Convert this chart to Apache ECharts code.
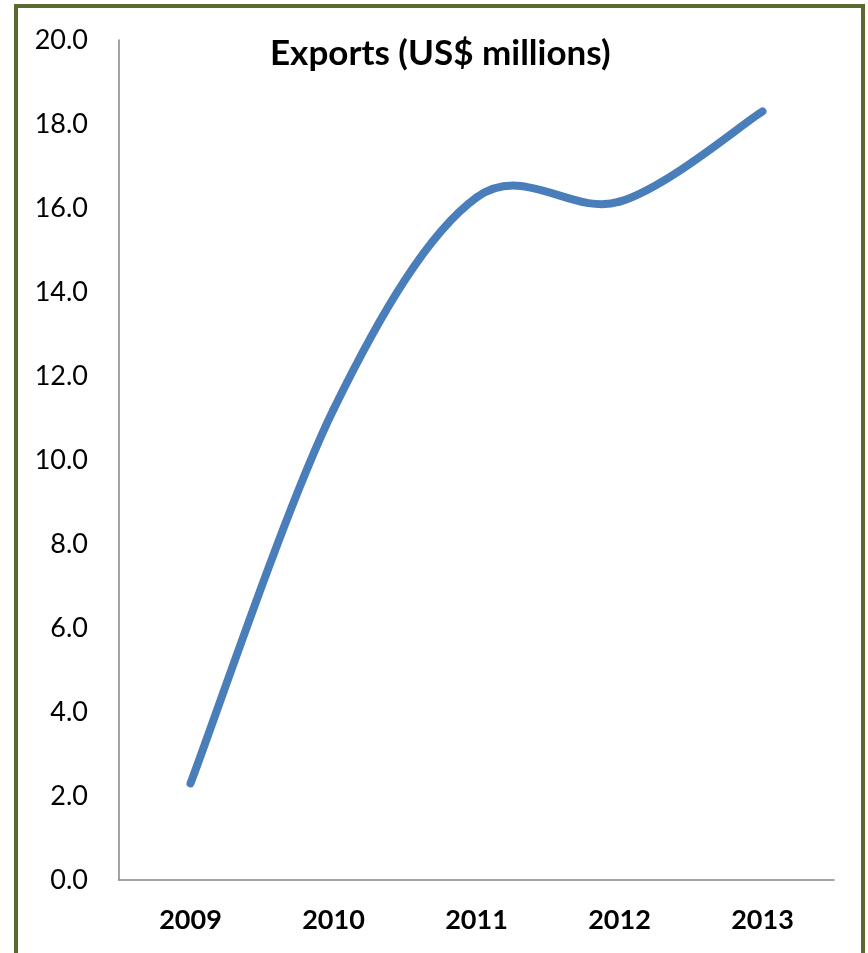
<!DOCTYPE html>
<html>
<head>
<meta charset="utf-8">
<script src="https://cdn.jsdelivr.net/npm/echarts@6/dist/echarts.min.js"></script>
<style>
  html, body { margin: 0; padding: 0; background: #ffffff; }
  #chart { width: 868px; height: 953px; }
</style>
</head>
<body>
<div id="chart"></div>
<script>
// Annual exports, US$ millions
const years = ['2009', '2010', '2011', '2012', '2013'];
const exportsUsdMillions = [2.3, 11.2, 16.25, 16.15, 18.3];
const yTicks = { min: 0, max: 20, step: 2 };

const LINE_COLOR = '#4A7EBB';
const TENSION = 1 / 6; // Catmull-Rom style smoothing through every point

// One cubic Bezier per segment between consecutive years; control points
// come from the neighbouring points, in pixel space from the chart's own axes.
function renderSegment(params, api) {
  const i = params.dataIndexInside;
  const n = exportsUsdMillions.length;
  if (i >= n - 1) return null;
  const pt = k => {
    const kk = Math.max(0, Math.min(n - 1, k));
    return api.coord([api.value(0, kk), api.value(1, kk)]);
  };
  const p0 = pt(i - 1), p1 = pt(i), p2 = pt(i + 1), p3 = pt(i + 2);
  return {
    type: 'bezierCurve',
    shape: {
      x1: p1[0], y1: p1[1],
      x2: p2[0], y2: p2[1],
      cpx1: p1[0] + (p2[0] - p0[0]) * TENSION,
      cpy1: p1[1] + (p2[1] - p0[1]) * TENSION,
      cpx2: p2[0] - (p3[0] - p1[0]) * TENSION,
      cpy2: p2[1] - (p3[1] - p1[1]) * TENSION
    },
    style: { stroke: LINE_COLOR, lineWidth: 8, fill: null, lineCap: 'round' }
  };
}

const chart = echarts.init(document.getElementById('chart'));

chart.setOption({
  backgroundColor: '#ffffff',
  animation: false,
  title: {
    text: 'Exports (US$ millions)',
    left: 265,
    top: 31,
    textStyle: { fontFamily: 'Lato', fontWeight: 'bold', fontSize: 35, color: '#000000' }
  },
  grid: { left: 119, right: 34, top: 40, bottom: 73, containLabel: false },
  xAxis: {
    type: 'category',
    data: years,
    boundaryGap: true,
    axisLine: { lineStyle: { color: '#868686', width: 1.5 } },
    axisTick: { show: false },
    axisLabel: {
      margin: 27,
      fontFamily: 'Lato',
      fontWeight: 'bold',
      fontSize: 27,
      color: '#000000'
    }
  },
  yAxis: {
    type: 'value',
    min: yTicks.min,
    max: yTicks.max,
    interval: yTicks.step,
    splitLine: { show: false },
    axisLine: { show: true, lineStyle: { color: '#868686', width: 1.5 } },
    axisTick: { show: false },
    axisLabel: {
      margin: 31,
      fontFamily: 'Lato',
      fontSize: 27,
      color: '#000000',
      formatter: v => v.toFixed(1)
    }
  },
  series: [{
    type: 'custom',
    data: exportsUsdMillions.map((v, i) => [i, v]),
    encode: { x: 0, y: 1 },
    renderItem: renderSegment,
    clip: false
  }],
  graphic: [{
    type: 'rect',
    shape: { x: 16, y: 6, width: 847, height: 1000 },
    style: { fill: 'none', stroke: '#586A2C', lineWidth: 4 },
    silent: true
  }]
});
</script>
</body>
</html>
